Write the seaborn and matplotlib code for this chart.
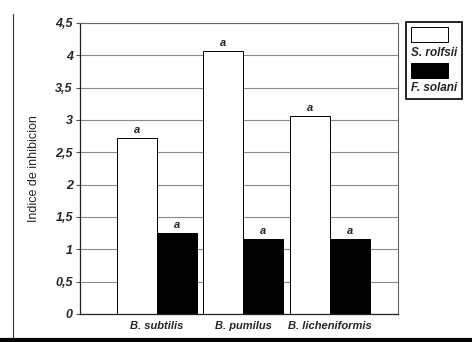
import pandas as pd
import matplotlib
matplotlib.use("Agg")
import matplotlib.pyplot as plt
import seaborn as sns
from matplotlib.offsetbox import AnchoredOffsetbox, VPacker, DrawingArea, TextArea
from matplotlib.patches import Rectangle
from matplotlib.lines import Line2D

# data
cepas = ["B. subtilis", "B. pumilus", "B. licheniformis"]
hongos = ["S. rolfsii", "F. solani"]
s_rolfsii = [2.72, 4.07, 3.06]
f_solani = [1.25, 1.16, 1.16]
letras = ["a", "a", "a"]
yticks = [0, 0.5, 1, 1.5, 2, 2.5, 3, 3.5, 4, 4.5]
ytick_labels = ["0", "0,5", "1", "1,5", "2", "2,5", "3", "3,5", "4", "4,5"]

df = pd.DataFrame({
    "cepa": cepas * 2,
    "hongo": [hongos[0]] * 3 + [hongos[1]] * 3,
    "indice": s_rolfsii + f_solani,
})

sns.set_style("white")
plt.rcParams["font.family"] = ["Liberation Sans", "DejaVu Sans"]

fig = plt.figure(figsize=(4.72, 3.42), dpi=100)
ax = fig.add_axes([0.169, 0.082, 0.674, 0.851])

sns.barplot(data=df, x="cepa", y="indice", hue="hongo", hue_order=hongos,
            palette=["white", "black"], edgecolor="black", linewidth=0.7,
            width=0.925, gap=0, legend=False, ax=ax)

for cont in ax.containers:
    ax.bar_label(cont, labels=letras, padding=2, fontsize=8,
                 fontweight="bold", fontstyle="italic")

ax.set_ylim(0, 4.5)
ax.set_xlim(-0.89, 2.79)
ax.set_yticks(yticks)
ax.set_yticklabels(ytick_labels, fontsize=9, fontweight="bold", fontstyle="italic")
ax.set_xticks(range(3))
ax.set_xticklabels(cepas, fontsize=8, fontweight="bold", fontstyle="italic")
ax.tick_params(axis="x", length=0, pad=5)
ax.tick_params(axis="y", length=3, width=0.8, color="#555555", left=True, pad=2)
ax.set_xlabel("")
ax.set_ylabel("Indice de inhibicion", fontsize=9, labelpad=11)
ax.yaxis.grid(True, color="#8a8a8a", linewidth=0.8)
ax.set_axisbelow(True)
for side in ["left", "bottom"]:
    ax.spines[side].set_color("#222222")
    ax.spines[side].set_linewidth(0.9)
for side in ["top", "right"]:
    ax.spines[side].set_color("#666666")
    ax.spines[side].set_linewidth(0.8)

# legend: handle above label, as in the original
items = []
for col, name in zip(["white", "black"], hongos):
    da = DrawingArea(27, 11, 0, 0)
    da.add_artist(Rectangle((0, 0), 27, 11, facecolor=col, edgecolor="black", linewidth=0.7))
    ta = TextArea(name, textprops=dict(fontsize=8.5, fontweight="bold", fontstyle="italic"))
    items += [da, ta]
box = VPacker(children=items, align="left", pad=0, sep=3)
anch = AnchoredOffsetbox(loc="upper left", child=box, pad=0.35, borderpad=0,
                         bbox_to_anchor=(0.86, 0.935), bbox_transform=fig.transFigure,
                         frameon=True)
anch.patch.set_edgecolor("black")
anch.patch.set_linewidth(1.2)
fig.add_artist(anch)

# scan frame
fig.add_artist(Line2D([0.027, 0.027], [0.01, 0.96], color="#333333", lw=0.8,
                      transform=fig.transFigure))
fig.add_artist(Line2D([0.0, 1.0], [0.006, 0.006], color="black", lw=3,
                      transform=fig.transFigure))

fig.savefig("out.png", dpi=100)
